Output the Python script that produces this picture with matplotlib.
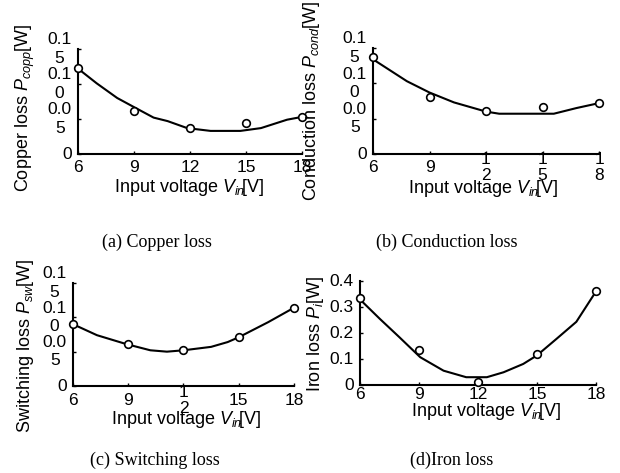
import matplotlib
matplotlib.use("Agg")
import matplotlib.pyplot as plt

plt.rcParams['font.family'] = ['Liberation Sans', 'DejaVu Sans']
plt.rcParams['mathtext.fontset'] = 'custom'
plt.rcParams['mathtext.rm'] = 'Liberation Sans'
plt.rcParams['mathtext.it'] = 'Liberation Sans:italic'

# measured points (open circles)
vin = [6, 9, 12, 15, 18]
copp_meas = [0.123, 0.061, 0.037, 0.044, 0.053]
cond_meas = [0.137, 0.080, 0.061, 0.066, 0.072]
sw_meas = [0.091, 0.061, 0.052, 0.071, 0.114]
iron_meas = [0.333, 0.135, 0.010, 0.120, 0.363]

# calculated curves
copp_x = [6, 7.0, 8.1, 9.0, 10.05, 10.8, 11.85, 13.1, 14.7, 15.25, 15.8, 17.2, 18]
copp_y = [0.122, 0.101, 0.080, 0.067, 0.052, 0.047, 0.037, 0.033, 0.033, 0.035, 0.037, 0.049, 0.053]
cond_x = [6, 7.8, 9, 10.3, 12, 12.7, 15.6, 16.8, 18]
cond_y = [0.134, 0.103, 0.087, 0.073, 0.060, 0.057, 0.057, 0.065, 0.072]
sw_x = [6, 7.3, 8.9, 10.2, 11.1, 12, 13.5, 14.4, 15, 16.6, 18]
sw_y = [0.090, 0.074, 0.061, 0.052, 0.050, 0.052, 0.057, 0.064, 0.071, 0.093, 0.114]
iron_x = [6, 7, 8, 9.06, 10.25, 11.4, 12.45, 13.3, 14.3, 15, 16, 17, 18]
iron_y = [0.329, 0.255, 0.184, 0.107, 0.055, 0.030, 0.030, 0.049, 0.081, 0.114, 0.178, 0.243, 0.360]

# tick labels as they appear (wrapped)
small_yticks = [0, 0.05, 0.10, 0.15]
small_ylabels = ['0', '0.0\n5', '0.1\n0', '0.1\n5']
iron_yticks = [0, 0.1, 0.2, 0.3, 0.4]
iron_ylabels = ['0', '0.1', '0.2', '0.3', '0.4']
xlabels_a = ['6', '9', '12', '15', '18']
xlabels_b = ['6', '9', '1\n2', '1\n5', '1\n8']
xlabels_c = ['6', '9', '1\n2', '15', '18']
xlabels_d = ['6', '9', '12', '15', '18']

W, H = 620, 473
TICK_FS = 12.5
fig = plt.figure(figsize=(6.2, 4.73), dpi=100)


def px(x, y):
    return x / W, 1 - y / H


def make_panel(box, cx, cy, mx, my, yticks, ylabels, xlabels, ylab,
               ymax, xpad, ylab_pos, xlab_pos, cap, cap_pos):
    x0, y0, x1, y1 = box
    ax = fig.add_axes([x0 / W, 1 - y1 / H, (x1 - x0) / W, (y1 - y0) / H])
    ax.plot(cx, cy, color='black', lw=1.5, clip_on=False)
    ax.plot(mx, my, 'o', mfc='white', mec='black', ms=5.5, mew=1.2,
            clip_on=False, zorder=3)
    ax.set_xlim(6, 18)
    ax.set_ylim(0, ymax)
    for s in ['top', 'right']:
        ax.spines[s].set_visible(False)
    for s in ['left', 'bottom']:
        ax.spines[s].set_linewidth(1.5)
    ax.tick_params(direction='in', length=2.5, width=1)
    ax.tick_params(axis='x', pad=xpad)
    ax.tick_params(axis='y', pad=4.5)
    ax.set_xticks(vin)
    ax.set_xticklabels(xlabels, fontsize=TICK_FS, va='center',
                       linespacing=1.15)
    ax.set_yticks(yticks)
    ax.set_yticklabels(ylabels, fontsize=TICK_FS, va='center',
                       multialignment='center', linespacing=1.3)
    ax.set_ylabel(ylab, fontsize=13)
    ax.yaxis.label.set_va('center')
    ax.yaxis.set_label_coords(*px(*ylab_pos), transform=fig.transFigure)
    ax.set_xlabel(r'Input voltage $V_{in}\!$[V]', fontsize=13)
    ax.xaxis.label.set_va('center')
    ax.xaxis.set_label_coords(*px(*xlab_pos), transform=fig.transFigure)
    fig.text(*px(*cap_pos), cap, ha='center', va='center', fontsize=13,
             family='Liberation Serif')
    return ax


make_panel((78, 49, 302, 154), copp_x, copp_y, vin, copp_meas,
           small_yticks, small_ylabels, xlabels_a,
           r'Copper loss $P_{copp}$[W]', 0.15, 9.7,
           (25, 108), (189, 187), '(a) Copper loss', (157, 242))
make_panel((373, 48, 599, 154), cond_x, cond_y, vin, cond_meas,
           small_yticks, small_ylabels, xlabels_b,
           r'Conduction loss $P_{cond}$[W]', 0.15, 9.7,
           (311, 101), (483, 188), '(b) Conduction loss', (447, 242))
make_panel((73, 283, 294, 386), sw_x, sw_y, vin, sw_meas,
           small_yticks, small_ylabels, xlabels_c,
           r'Switching loss $P_{sw}$[W]', 0.15, 10.4,
           (26, 346), (186, 420), '(c) Switching loss', (155, 460))
make_panel((360, 281, 596, 385), iron_x, iron_y, vin, iron_meas,
           iron_yticks, iron_ylabels, xlabels_d,
           r'Iron loss $P_i$[W]', 0.4, 6.9,
           (316, 334), (486, 411), '(d)Iron loss', (452, 460))

fig.savefig('out.png', dpi=100)
